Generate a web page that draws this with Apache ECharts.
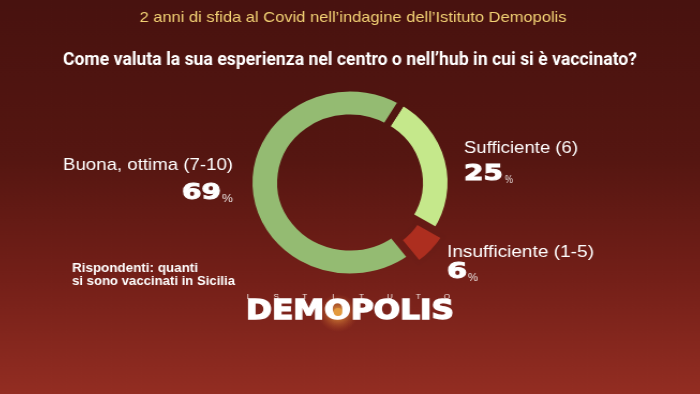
<!DOCTYPE html>
<html><head><meta charset="utf-8">
<script src="https://cdn.jsdelivr.net/npm/echarts@6/dist/echarts.min.js"></script>
<style>
html,body{margin:0;padding:0;background:#4a1310;overflow:hidden;width:700px;height:394px}
#c{width:700px;height:394px;transform:scaleX(1.072);transform-origin:350px 0}
</style>
</head><body><div id="c"></div>
<script>
// ---- data ----
const categories = ['Sufficiente (6)', 'Buona, ottima (7-10)', 'Insufficiente (1-5)'];
const values = [25, 69, 6];
const subtitle = '2 anni di sfida al Covid nell\u2019indagine dell\u2019Istituto Demopolis';
const title = 'Come valuta la sua esperienza nel centro o nell\u2019hub in cui si \u00e8 vaccinato?';
const note = ['Rispondenti: quanti', 'si sono vaccinati in Sicilia'];
const logoTop = ['I', 'S', 'T', 'I', 'T', 'U', 'T', 'O'];
const logoMain = 'DEMOPOLIS';

// ---- styles / layout (page pixel coordinates) ----
const SX = 1.072; // horizontal stretch of the picture
function X(x) { return 350 + (x - 350) / SX; }
const colors = ['#c5e88b', '#94bb72', '#ad2e1f'];
const borders = [7, 7, 5];
const labelLayout = [
  { nx: 464, ny: 148, nw: 114, align: 'left', vx: 464, vy: 185, vw: 39, px: 505, pw: 8 },
  { nx: 233, ny: 165, nw: 170, align: 'right', vx: 182, vy: 204, vw: 39, px: 222, pw: 11 },
  { nx: 447, ny: 252, nw: 147, align: 'left', vx: 447, vy: 283, vw: 20, px: 468, pw: 10 }
];
const bgStops = [
  { offset: 0, color: '#48120f' },
  { offset: 0.4, color: '#551611' },
  { offset: 0.7, color: '#731f18' },
  { offset: 1, color: '#932d22' }];

const ctx = document.createElement('canvas').getContext('2d');
function measure(text, font) { ctx.font = font; return ctx.measureText(text).width; }
function txt(text, x, y, font, fill, align, width, vAlign, strokeW) {
  const w = measure(text, font);
  const va = vAlign || 'middle';
  const st = { text: text, font: font, fill: fill, align: align, textAlign: align,
               verticalAlign: va, textVerticalAlign: va };
  if (strokeW) { st.stroke = fill; st.lineWidth = strokeW; }
  return { type: 'text', x: X(x), y: y, scaleX: (width ? width / w : 1) / SX, silent: true, z: 10, style: st };
}

const labelFont = '17px "Liberation Sans", Arial, sans-serif';
const numFont = 'bold 21px "DejaVu Sans", sans-serif';
const pctFont = '10px "Liberation Sans", Arial, sans-serif';

const graphics = [];
graphics.push(txt(subtitle, 353, 18, '15px "Liberation Sans", Arial, sans-serif', '#f2d174', 'center', 427));
graphics.push(txt(title, 350, 60, 'bold 19px Roboto, sans-serif', '#ffffff', 'center', 574));

categories.forEach(function (name, i) {
  const L = labelLayout[i];
  graphics.push(txt(name, L.nx, L.ny, labelFont, '#ffffff', L.align, L.nw));
  graphics.push(txt(String(values[i]), L.vx, L.vy, numFont, '#ffffff', 'left', L.vw, 'bottom', 1));
  graphics.push(txt('%', L.px, L.vy, pctFont, '#e8e0de', 'left', L.pw, 'bottom'));
});

graphics.push(txt(note[0], 72, 268, 'bold 13px "Liberation Sans", Arial, sans-serif', '#ffffff', 'left', 126));
graphics.push(txt(note[1], 72, 281, 'bold 13px "Liberation Sans", Arial, sans-serif', '#ffffff', 'left', 163));

// logo
graphics.push({
  type: 'circle', shape: { cx: X(338), cy: 313, r: 19 }, silent: true, z: 5,
  style: { fill: { type: 'radial', x: 0.5, y: 0.5, r: 0.5, colorStops: [
    { offset: 0, color: 'rgba(250,190,90,0.9)' },
    { offset: 0.45, color: 'rgba(235,150,60,0.45)' },
    { offset: 1, color: 'rgba(200,90,40,0)' }] } }
});
logoTop.forEach(function (ch, i) {
  graphics.push(txt(ch, 248 + i * 28.4, 297, '8px "Liberation Sans", Arial, sans-serif', '#f4e8e4', 'center'));
});
graphics.push(txt(logoMain, 246, 312, 'bold 27px "DejaVu Sans", sans-serif', '#ffffff', 'left', 208, 'middle', 1.4));
graphics.push({
  type: 'circle', shape: { cx: X(338), cy: 312, r: 4 }, silent: true, z: 20,
  style: { fill: '#e39a3e' }
});

const bgBorder = { type: 'linear', x: 0, y: 0, x2: 0, y2: 394, global: true, colorStops: bgStops };
const chart = echarts.init(document.getElementById('c'));
chart.setOption({
  animation: false,
  backgroundColor: { type: 'linear', x: 0, y: 0, x2: 0, y2: 1, colorStops: bgStops },
  graphic: graphics,
  series: [{
    type: 'pie',
    center: [350, 182.5],
    radius: [64.5, 94.5],
    startAngle: -31,
    clockwise: false,
    selectedMode: 'single',
    selectedOffset: 9,
    silent: true,
    label: { show: false },
    labelLine: { show: false },
    emphasis: { disabled: true },
    data: categories.map(function (c, i) {
      return { name: c, value: values[i], selected: i === 2,
               itemStyle: { color: colors[i], borderWidth: borders[i], borderColor: bgBorder } };
    })
  }]
});
</script></body></html>
